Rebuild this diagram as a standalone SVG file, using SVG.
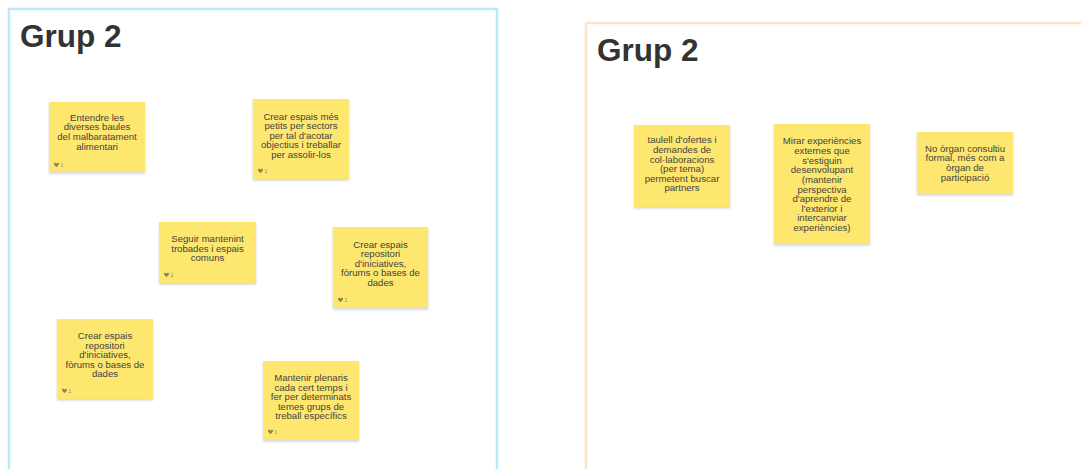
<svg xmlns="http://www.w3.org/2000/svg" width="1081" height="469" viewBox="0 0 1081 469">
<defs>
<filter id="sh" x="-10%" y="-10%" width="120%" height="130%">
<feDropShadow dx="0" dy="1.5" stdDeviation="1.2" flood-color="#000" flood-opacity="0.18"/>
</filter>
<g id="heart"><path d="M0,1 C0,-0.6 2,-0.6 2.5,0.8 C3,-0.6 5,-0.6 5,1 C5,2.4 2.5,3.8 2.5,4 C2.5,3.8 0,2.4 0,1 Z" fill="#8a8354"/><text x="6.5" y="3.8" font-family="Liberation Sans, Arial, sans-serif" font-size="5" fill="#8a8354">1</text></g>
</defs>
<style>
.frame1{fill:#fff;stroke:#bde9fb;stroke-width:2.5}
.frame2{fill:#fff;stroke:#fde3c7;stroke-width:2.5}
.title{font-family:"Liberation Sans",Arial,sans-serif;font-weight:bold;font-size:31.5px;fill:#333}
.note{fill:#fde76e;filter:url(#sh)}
.t{font-family:"Liberation Sans",Arial,sans-serif;font-size:9.6px;fill:#444;text-anchor:middle}
</style>
<rect width="1081" height="469" fill="#fff"/>
<g id="frame-left">
<rect class="frame1" x="9" y="9" width="488" height="480"/>
<text class="title" x="20" y="47">Grup 2</text>
</g>
<g id="frame-right">
<rect class="frame2" x="586" y="23" width="520" height="470"/>
<text class="title" x="597" y="61">Grup 2</text>
</g>
<g id="connectors"></g>
<g id="n1">
<rect class="note" x="49" y="102" width="96" height="70"/>
<text class="t"><tspan x="97" y="120.5">Entendre les</tspan><tspan x="97" y="130.2">diverses baules</tspan><tspan x="97" y="140.4">del malbaratament</tspan><tspan x="97" y="150">alimentari</tspan></text>
<use href="#heart" x="54" y="163"/>
</g>
<g id="n2">
<rect class="note" x="253" y="99" width="96" height="80"/>
<text class="t"><tspan x="301" y="119.5">Crear espais més</tspan><tspan x="301" y="129">petits per sectors</tspan><tspan x="301" y="138.5">per tal d'acotar</tspan><tspan x="301" y="148">objectius i treballar</tspan><tspan x="301" y="157.5">per assolir-los</tspan></text>
<use href="#heart" x="258" y="169"/>
</g>
<g id="n3">
<rect class="note" x="159" y="222" width="97" height="61"/>
<text class="t"><tspan x="207.5" y="242">Seguir mantenint</tspan><tspan x="207.5" y="251.5">trobades i espais</tspan><tspan x="207.5" y="261">comuns</tspan></text>
<use href="#heart" x="164" y="273"/>
</g>
<g id="n4">
<rect class="note" x="333" y="227" width="95" height="81"/>
<text class="t"><tspan x="380.5" y="247.5">Crear espais</tspan><tspan x="380.5" y="257">repositori</tspan><tspan x="380.5" y="266.5">d'iniciatives,</tspan><tspan x="380.5" y="276">fòrums o bases de</tspan><tspan x="380.5" y="285.5">dades</tspan></text>
<use href="#heart" x="338" y="298"/>
</g>
<g id="n5">
<rect class="note" x="57" y="319" width="96" height="80"/>
<text class="t"><tspan x="105" y="339">Crear espais</tspan><tspan x="105" y="348.5">repositori</tspan><tspan x="105" y="358">d'iniciatives,</tspan><tspan x="105" y="367.5">fòrums o bases de</tspan><tspan x="105" y="377">dades</tspan></text>
<use href="#heart" x="62" y="389"/>
</g>
<g id="n6">
<rect class="note" x="263" y="361" width="96" height="79"/>
<text class="t"><tspan x="311" y="381">Mantenir plenaris</tspan><tspan x="311" y="390.5">cada cert temps i</tspan><tspan x="311" y="400">fer per determinats</tspan><tspan x="311" y="409.5">temes grups de</tspan><tspan x="311" y="419">treball específics</tspan></text>
<use href="#heart" x="268" y="430"/>
</g>
<g id="n7">
<rect class="note" x="634" y="125" width="96" height="82"/>
<text class="t"><tspan x="682" y="143.3">taulell d'ofertes i</tspan><tspan x="682" y="153">demandes de</tspan><tspan x="682" y="162.6">col·laboracions</tspan><tspan x="682" y="172.2">(per tema)</tspan><tspan x="682" y="181.8">permetent buscar</tspan><tspan x="682" y="191.4">partners</tspan></text>
</g>
<g id="n8">
<rect class="note" x="774" y="124" width="96" height="120"/>
<text class="t"><tspan x="822" y="144.3">Mirar experiències</tspan><tspan x="822" y="153.9">externes que</tspan><tspan x="822" y="163.6">s'estiguin</tspan><tspan x="822" y="173.2">desenvolupant</tspan><tspan x="822" y="182.8">(mantenir</tspan><tspan x="822" y="192.5">perspectiva</tspan><tspan x="822" y="202.1">d'aprendre de</tspan><tspan x="822" y="211.7">l'exterior i</tspan><tspan x="822" y="221.3">intercanviar</tspan><tspan x="822" y="231">experiències)</tspan></text>
</g>
<g id="n9">
<rect class="note" x="917" y="132" width="96" height="62"/>
<text class="t"><tspan x="965" y="151.5">No òrgan consultiu</tspan><tspan x="965" y="161.3">formal, més com a</tspan><tspan x="965" y="171">òrgan de</tspan><tspan x="965" y="180.8">participació</tspan></text>
</g>
</svg>
